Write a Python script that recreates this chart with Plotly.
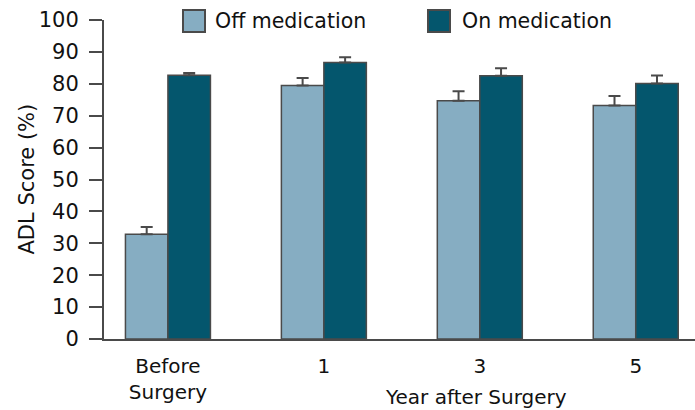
import plotly.graph_objects as go

# ADL scores before and after surgery, off vs on medication
categories = ["Before<br>Surgery", "1", "3", "5"]
off_med = [32.8, 79.5, 74.7, 73.2]
off_err = [2.3, 2.3, 3.0, 3.0]
on_med = [82.7, 86.7, 82.5, 80.1]
on_err = [0.7, 1.6, 2.4, 2.5]
series_names = ["Off medication", "On medication"]
y_ticks = [0, 10, 20, 30, 40, 50, 60, 70, 80, 90, 100]

OFF_COLOR = "#86adc2"
ON_COLOR = "#04566d"
EDGE = "#4a4a4a"
FONT = "DejaVu Sans"

W, H = 695, 410
M_L, M_R, M_T, M_B = 104, 0, 20, 71
PLOT_W = W - M_L - M_R
PLOT_H = H - M_T - M_B


def px_x(px):
    return (px - M_L) / PLOT_W


def px_y(py):
    return (H - M_B - py) / PLOT_H


fig = go.Figure()

for name, vals, errs, color in [
    (series_names[0], off_med, off_err, OFF_COLOR),
    (series_names[1], on_med, on_err, ON_COLOR),
]:
    fig.add_trace(go.Bar(
        x=categories, y=vals, name=name,
        marker=dict(color=color, line=dict(color=EDGE, width=1.5)),
        error_y=dict(type="data", array=errs, arrayminus=[0] * len(errs),
                     symmetric=False, color=EDGE, thickness=2, width=6),
        showlegend=False,
    ))

# Legend drawn as swatches + labels across the top
for (sq_left, txt_left), name, color in zip(
    [(183, 215), (428, 462)], series_names, [OFF_COLOR, ON_COLOR]
):
    fig.add_shape(
        type="rect", xref="paper", yref="paper",
        x0=px_x(sq_left), x1=px_x(sq_left + 22), y0=px_y(32), y1=px_y(10),
        fillcolor=color, line=dict(color=EDGE, width=2),
    )
    fig.add_annotation(
        text=name, xref="paper", yref="paper", x=px_x(txt_left - 2), y=px_y(21),
        xanchor="left", yanchor="middle", showarrow=False,
        font=dict(size=20.5, family=FONT, color="#111"),
    )

fig.add_annotation(
    text="Year after Surgery", x=2, y=0, xref="x", yref="paper",
    yanchor="middle", yshift=-58, xshift=-4, showarrow=False,
    font=dict(size=20, family=FONT, color="#111"),
)

fig.add_annotation(
    text="ADL Score (%)", xref="paper", yref="paper", x=px_x(26), y=0.5,
    xanchor="center", yanchor="middle", textangle=-90, showarrow=False,
    font=dict(size=21, family=FONT, color="#111"),
)

fig.update_layout(
    width=W, height=H,
    margin=dict(l=M_L, r=M_R, t=M_T, b=M_B),
    plot_bgcolor="white", paper_bgcolor="white",
    barmode="group", bargap=0.455, bargroupgap=0,
    font=dict(family=FONT, size=20, color="#111"),
    showlegend=False,
    xaxis=dict(range=[-0.41, 3.38], showline=True, linecolor=EDGE, linewidth=2,
               ticks="", showgrid=False, tickfont=dict(size=20),
               ticklabelstandoff=8),
    yaxis=dict(range=[0, 100], tickvals=y_ticks, showline=True, linecolor=EDGE,
               linewidth=2, ticks="outside", ticklen=13, tickwidth=2, tickcolor=EDGE,
               showgrid=False, zeroline=False, tickfont=dict(size=21),
               ticklabelstandoff=6),
)

fig.write_html("out.html")
